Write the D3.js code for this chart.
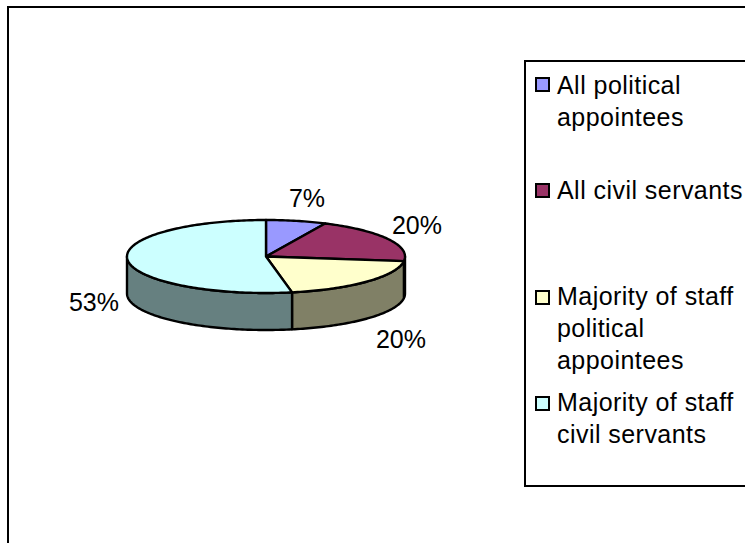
<!DOCTYPE html>
<html><head><meta charset="utf-8">
<style>html,body{margin:0;padding:0;background:#fff;overflow:hidden}svg{display:block}text{font-family:"Liberation Sans",Arial,sans-serif;font-size:25px;fill:#000}.legend-item text{letter-spacing:.45px}</style>
<script src="https://cdn.jsdelivr.net/npm/d3@7/dist/d3.min.js"></script>
</head><body><script>
const categories = ["All political appointees","All civil servants","Majority of staff political appointees","Majority of staff civil servants"];
const values = [7,20,20,53];
const topColors = ["#9999ff","#993366","#ffffcc","#ccffff"];
const sideColors = ["#4d4d80","#4d1a33","#808066","#668080"];
const legendLines = [["All political","appointees"],["All civil servants"],["Majority of staff","political","appointees"],["Majority of staff","civil servants"]];
const labelText = ["7%","20%","20%","53%"];

const W=745,H=543;
const svg=d3.select("body").append("svg").attr("width",W).attr("height",H);
// frame
svg.append("rect").attr("x",8).attr("y",7).attr("width",W+20).attr("height",H+20).attr("fill","#fff").attr("stroke","#000").attr("stroke-width",2);

const x=d3.scaleLinear().domain([-1,1]).range([127,405]);
const y=d3.scaleLinear().domain([-1,1]).range([220,293]);
const depth=37;
const arcs=d3.pie().sort(null)(values);
const px=a=>x(Math.sin(a)), py=a=>y(-Math.cos(a));
const samples=(a,b)=>{const n=Math.max(2,Math.ceil((b-a)/0.02));return d3.range(n+1).map(i=>a+(b-a)*i/n)};
const area=d3.area().x(px).y0(py).y1(a=>py(a)+depth);
const line=d3.line().x(p=>p[0]).y(p=>p[1]);
const strokeW=2.4;
// side walls (front half only)
arcs.forEach((d,i)=>{
  const a=Math.max(d.startAngle,Math.PI/2),b=Math.min(d.endAngle,Math.PI*1.5);
  if(b<=a)return;
  svg.append("path").attr("d",area(samples(a,b))).attr("fill",sideColors[i]).attr("stroke","#000").attr("stroke-width",strokeW).attr("stroke-linejoin","round");
});
// top faces
arcs.forEach((d,i)=>{
  const pts=[[x(0),y(0)],...samples(d.startAngle,d.endAngle).map(a=>[px(a),py(a)])];
  svg.append("path").attr("d",line(pts)+"Z").attr("fill",topColors[i]).attr("stroke","#000").attr("stroke-width",strokeW).attr("stroke-linejoin","round");
});
// data labels
const labelPos=[[307,207],[417,234],[401,348],[94,311]];
labelText.forEach((t,i)=>svg.append("text").attr("x",labelPos[i][0]).attr("y",labelPos[i][1]).attr("text-anchor","middle").text(t));
// legend
svg.append("rect").attr("x",525).attr("y",61).attr("width",W).attr("height",425).attr("fill","#fff").attr("stroke","#000").attr("stroke-width",2);
const swatchY=[77,183,290,396];
const baselines=[[94,126],[199],[305,337,369],[411,443]];
categories.forEach((c,i)=>{
  const g=svg.append("g").attr("class","legend-item").attr("data-name",c);
  g.append("rect").attr("x",536).attr("y",swatchY[i]+1).attr("width",13).attr("height",13).attr("fill",topColors[i]).attr("stroke","#000").attr("stroke-width",2);
  legendLines[i].forEach((l,j)=>g.append("text").attr("x",557).attr("y",baselines[i][j]).text(l));
});
</script></body></html>
